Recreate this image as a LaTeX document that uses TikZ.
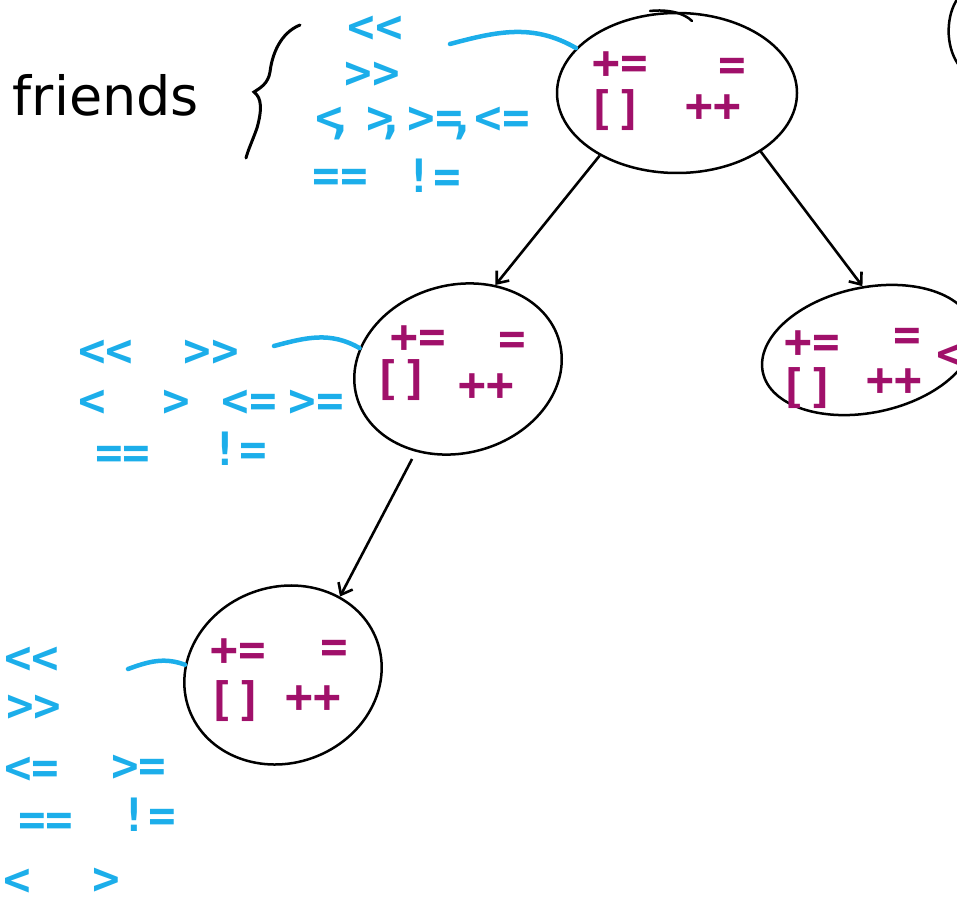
\documentclass[tikz,border=0pt]{standalone}
\usepackage{fontspec}
\usetikzlibrary{shapes.geometric,arrows.meta}
\newfontfamily\symfont{DejaVu Sans Mono}
\newfontfamily\handfont{DejaVu Sans}
\definecolor{hblue}{HTML}{1CAEEA}
\definecolor{hmag}{HTML}{A0106A}
\tikzset{
  oval/.style={draw=black, line width=2.5pt, ellipse, inner sep=0pt},
  sym/.style={font=\symfont\bfseries\fontsize{46}{46}\selectfont, inner sep=0pt, text height=30pt, text depth=0pt},
  bl/.style={sym, text=hblue},
  mg/.style={sym, text=hmag},
  link/.style={draw=black, line width=2.6pt, -{Straight Barb[length=10pt,width=16pt,line width=2.6pt]}},
  conn/.style={draw=hblue, line width=4.5pt, line cap=round},
  pen/.style={draw=black, line width=3pt, line cap=round}
}
\begin{document}
\begin{tikzpicture}[x=1pt,y=-1pt]
\useasboundingbox (0,0) rectangle (957,909);
\clip (0,0) rectangle (957,909);

% ovals
\node[oval, minimum width=240pt, minimum height=160pt] (top) at (677,93) {};
\node[oval, minimum width=210pt, minimum height=168pt, rotate=15] (mid) at (458,369) {};
\node[oval, minimum width=215pt, minimum height=125pt, rotate=12] (right) at (868,350) {};
\node[oval, minimum width=200pt, minimum height=176pt, rotate=20] (bot) at (283,675) {};
% extra stroke on top oval and partial oval at the top right
\draw[pen, line width=2.5pt] (650,11) .. controls (668,9) and (684,13) .. (692,21);
\draw[pen, line width=2.5pt] (958,-2) .. controls (946,15) and (945,45) .. (958,64);

% friends + brace
\node[font=\handfont\fontsize{54}{54}\selectfont, anchor=base, inner sep=0pt] (fr) at (106,116) {friends};
\draw[pen] (300,25) .. controls (280,33) and (272,55) .. (270,72)
  .. controls (268,84) and (260,88) .. (254,92)
  .. controls (262,98) and (262,110) .. (257,128)
  .. controls (252,142) and (248,150) .. (246,158);

% top blue group
\node[bl] (t1) at (375,28) {<<};
\node[bl] (t2) at (372,74) {>>};
\node[bl] (t3) at (335,119) {<\kern-.35em,};
\node[bl] (t4) at (386,119) {>\kern-.35em,};
\node[bl] (t5) at (442,119) {>=\kern-.3em,};
\node[bl] (t6) at (502,119) {<=};
\node[bl] (t7) at (340,177) {==};
\node[bl] (t8) at (433,178) {!=};

% middle blue group
\node[bl] (m1) at (106,351) {<<};
\node[bl] (m2) at (211,351) {>>};
\node[bl] (m3) at (92,401) {<};
\node[bl] (m4) at (176,401) {>};
\node[bl] (m5) at (249,401) {<=};
\node[bl] (m6) at (316,401) {>=};
\node[bl] (m7) at (123,453) {==};
\node[bl] (m8) at (239,450) {!=};

% bottom blue group
\node[bl] (b1) at (32,658) {<<};
\node[bl] (b2) at (34,706) {>>};
\node[bl] (b3) at (32,768) {<=};
\node[bl] (b4) at (139,766) {>=};
\node[bl] (b5) at (46,820) {==};
\node[bl] (b6) at (148,816) {!=};
\node[bl] (b7) at (17,880) {<};
\node[bl] (b8) at (106,879) {>};

% magenta operators
\node[mg] (p1) at (620,64) {+=};
\node[mg] (p2) at (732,66) {=};
\node[mg] (p3) at (615,110) {[]};
\node[mg] (p4) at (713,107) {++};

\node[mg] (q1) at (418,337) {+=};
\node[mg] (q2) at (512,339) {=};
\node[mg] (q3) at (401,379) {[]};
\node[mg] (q4) at (486,385) {++};

\node[mg] (r1) at (812,342) {+=};
\node[mg] (r2) at (907,335) {=};
\node[mg] (r3) at (807,387) {[]};
\node[mg] (r4) at (894,380) {++};
\node[mg] (r5) at (950,354) {<};

\node[mg] (s1) at (238,650) {+=};
\node[mg] (s2) at (334,647) {=};
\node[mg] (s3) at (235,700) {[]};
\node[mg] (s4) at (313,697) {++};

% arrows
\draw[link] (top.219) -- (mid.51);
\draw[link] (top.325) -- (right.83);
\draw[link, shorten <=8pt] (mid.228) -- (bot.34);

% blue connectors
\coordinate (ct) at (450,44);
\coordinate (cm) at (274,346);
\coordinate (cb) at (128,669);
\draw[conn] (ct) to[out=15,in=150] (top.156);
\draw[conn] (cm) to[out=15,in=150] (mid.153);
\draw[conn] (cb) to[out=20,in=160] (bot.154);
\end{tikzpicture}
\end{document}
